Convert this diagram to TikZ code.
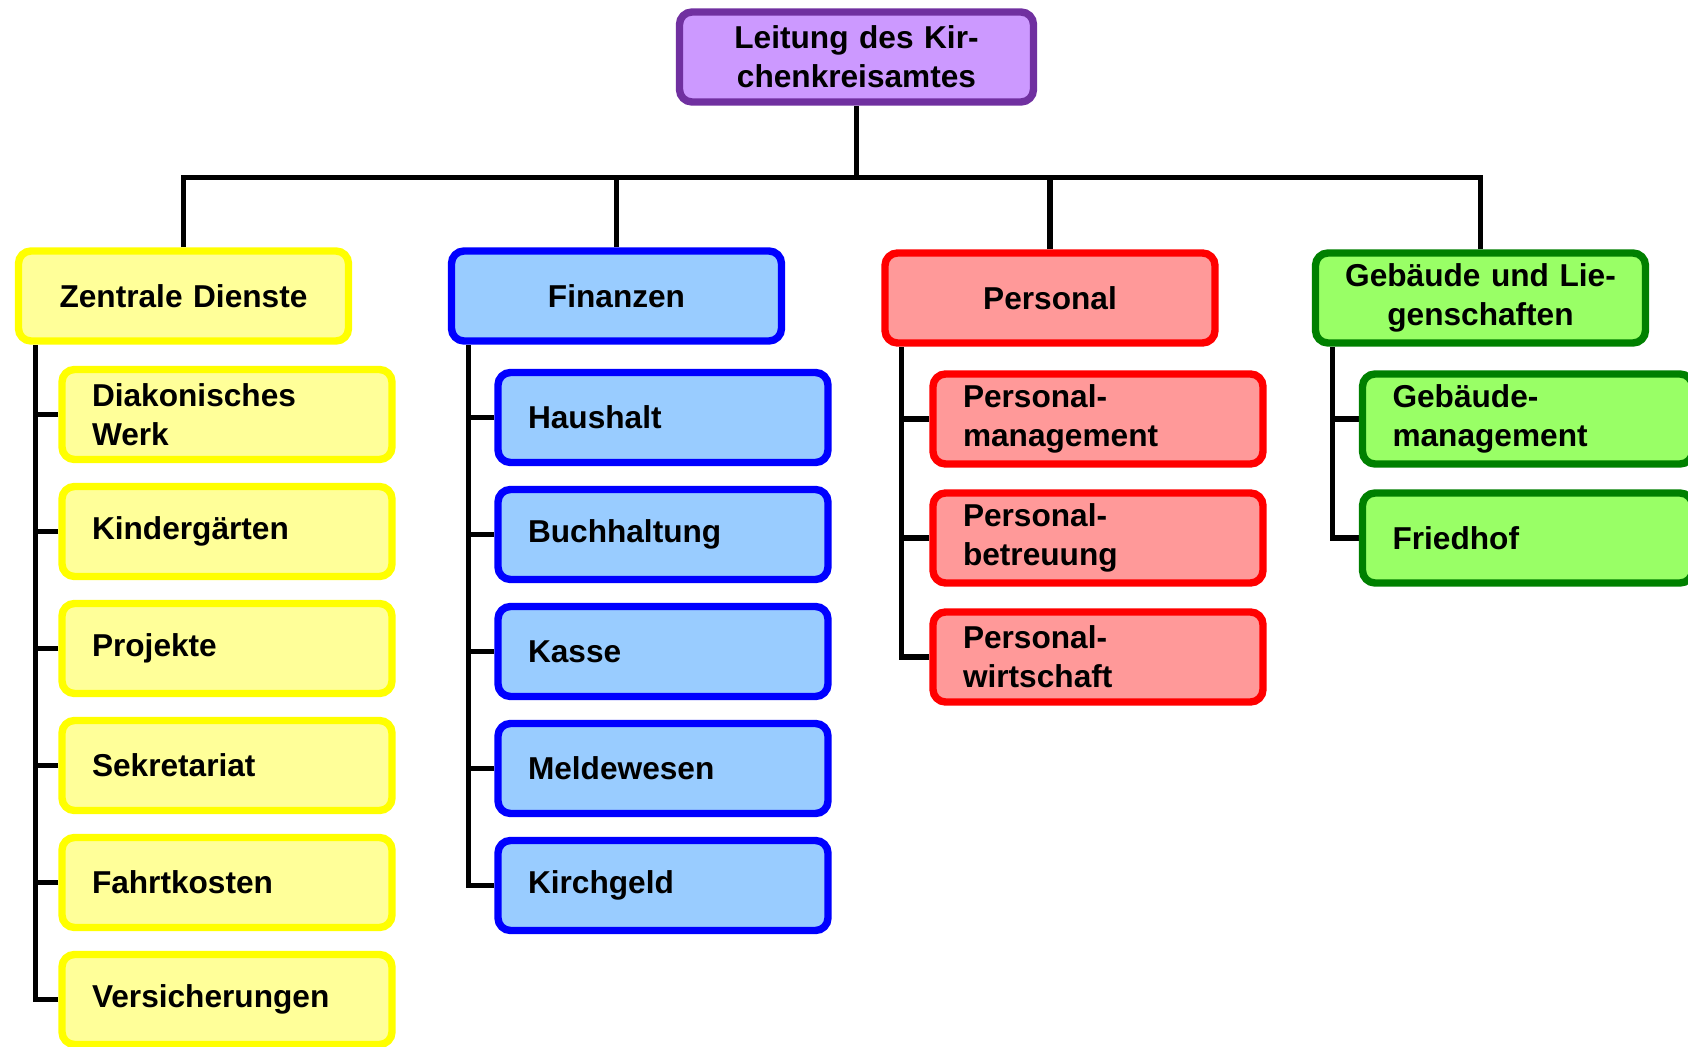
\documentclass[tikz,border=0pt]{standalone}
\usepackage{fontspec}
\setmainfont{Liberation Sans}
\usetikzlibrary{backgrounds}
\definecolor{leitfill}{HTML}{CC99FF}
\definecolor{leitdraw}{HTML}{7030A0}
\definecolor{gelbfill}{HTML}{FFFF99}
\definecolor{gelbdraw}{HTML}{FFFF00}
\definecolor{blaufill}{HTML}{99CCFF}
\definecolor{blaudraw}{HTML}{0000FF}
\definecolor{rotfill}{HTML}{FF9999}
\definecolor{rotdraw}{HTML}{FF0000}
\definecolor{gruenfill}{HTML}{99FF66}
\definecolor{gruendraw}{HTML}{008000}
\begin{document}
\begin{tikzpicture}
		[box/.style={draw,rounded corners=0.25cm,line width=4.2pt,minimum height=1.8cm,inner ysep=2pt,
			font=\fontsize{18}{22}\selectfont\bfseries},
		head/.style={box,text width=6.0cm,inner xsep=0.3cm,align=center},
		sub/.style={box,text width=5.4cm,inner xsep=0.6cm,align=left},
		leit/.style={draw=leitdraw,fill=leitfill},
		gelb/.style={draw=gelbdraw,fill=gelbfill},
		blau/.style={draw=blaudraw,fill=blaufill},
		rot/.style={draw=rotdraw,fill=rotfill},
		gruen/.style={draw=gruendraw,fill=gruenfill},
		line/.style={line width=3pt}]
		\useasboundingbox (0,0) rectangle (33.76,-20.94);
		\node[box,leit,text width=5.9cm,inner xsep=0.59cm,align=center,name=L]at(17.13,-1.14){Leitung des Kir-\\chenkreisamtes};
		\coordinate (bus) at (17.13,-3.55);
		\node[head,gelb,name=Z]at(3.67,-5.92){Zentrale Dienste};
		\node[head,blau,name=F]at(12.33,-5.92){Finanzen};
		\node[head,rot,name=P]at(21.0,-5.96){Personal};
		\node[head,gruen,name=G]at(29.61,-5.96){Gebäude und Lie-\\genschaften};
		\foreach \t [count=\i] in {{Diakonisches\\Werk},Kindergärten,Projekte,Sekretariat,Fahrtkosten,Versicherungen}
			\node[sub,gelb,name=Z\i]at(4.54,{-5.95-2.34*\i}){\t};
		\foreach \t [count=\i] in {Haushalt,Buchhaltung,Kasse,Meldewesen,Kirchgeld}
			\node[sub,blau,name=F\i]at(13.26,{-6.01-2.34*\i}){\t};
		\foreach \t [count=\i] in {{Personal-\\management},{Personal-\\betreuung},{Personal-\\wirtschaft}}
			\node[sub,rot,name=P\i]at(21.96,{-6.0-2.38*\i}){\t};
		\foreach \t [count=\i] in {{Gebäude-\\management},Friedhof}
			\node[sub,gruen,name=G\i]at(30.55,{-6.0-2.38*\i}){\t};
		\begin{scope}[on background layer]
			\draw[line] (L.south)--(bus);
			\foreach \n in {Z,F,P,G}
				\draw[line] (\n.north) |- (bus);
			\foreach \i in {1,...,6}
				\draw[line] (Z\i.west) -| ([xshift=0.41cm]Z.south west);
			\foreach \i in {1,...,5}
				\draw[line] (F\i.west) -| ([xshift=0.41cm]F.south west);
			\foreach \i in {1,...,3}
				\draw[line] (P\i.west) -| ([xshift=0.41cm]P.south west);
			\foreach \i in {1,2}
				\draw[line] (G\i.west) -| ([xshift=0.41cm]G.south west);
		\end{scope}
	\end{tikzpicture}
\end{document}
